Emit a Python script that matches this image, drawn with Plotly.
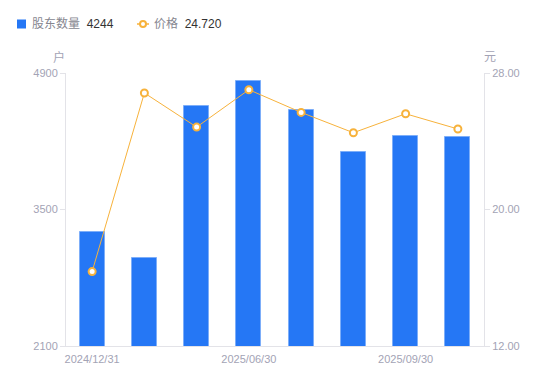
import plotly.graph_objects as go

categories = ["2024/12/31", "2025/03/31", "2025/04/30", "2025/06/30",
              "2025/07/31", "2025/08/31", "2025/09/30", "2025/10/31"]
holders = [3270, 3000, 4561, 4818, 4523, 4089, 4253, 4244]
price = [16.36, 26.83, 24.83, 27.02, 25.69, 24.50, 25.61, 24.72]
tick_idx = [0, 3, 6]
tick_labels = [categories[i] for i in tick_idx]
left_ticks = [2100, 3500, 4900]
right_ticks = [12, 20, 28]

W, H = 550, 381
ML, MR, MT, MB = 66, 66, 73, 35
PW, PH = W - ML - MR, H - MT - MB

def px(x):
    return (x - ML) / PW

def py(y):
    return (H - MB - y) / PH

BLUE = "#2577F5"
ORANGE = "#F7B23B"
TICK = "#A3A3B5"
AXIS = "#E3E3E8"
FONT = "Liberation Sans, Noto Sans CJK SC, sans-serif"

x = list(range(len(categories)))

fig = go.Figure()
fig.add_trace(go.Bar(
    x=x, y=holders, name="股东数量", width=0.48,
    marker=dict(color=BLUE, line=dict(color="#7DAEF9", width=1)),
    showlegend=False,
))
fig.add_trace(go.Scatter(
    x=x, y=price, name="价格", yaxis="y2", mode="lines+markers",
    line=dict(color=ORANGE, width=1),
    marker=dict(symbol="circle", size=7, color="white",
                line=dict(color=ORANGE, width=2)),
    showlegend=False,
))

fig.update_layout(
    width=W, height=H,
    margin=dict(l=ML, r=MR, t=MT, b=MB),
    paper_bgcolor="white", plot_bgcolor="white",
    font=dict(family=FONT, size=11, color=TICK),
    bargap=0,
    xaxis=dict(
        range=[-0.5, len(categories) - 0.5],
        tickvals=tick_idx, ticktext=tick_labels,
        showgrid=False, zeroline=False,
        showline=True, linecolor=AXIS, linewidth=1,
        ticks="", ticklabelstandoff=3, tickfont=dict(size=11, color=TICK),
    ),
    yaxis=dict(
        range=[left_ticks[0], left_ticks[-1]],
        tickvals=left_ticks,
        showgrid=False, zeroline=False,
        showline=True, linecolor=AXIS, linewidth=1,
        ticks="outside", ticklen=5, tickcolor=AXIS,
        tickfont=dict(size=11, color=TICK),
    ),
    yaxis2=dict(
        range=[right_ticks[0], right_ticks[-1]],
        tickvals=right_ticks, tickformat=".2f",
        overlaying="y", side="right",
        showgrid=False, zeroline=False,
        showline=True, linecolor=AXIS, linewidth=1,
        ticks="outside", ticklen=5, tickcolor=AXIS,
        tickfont=dict(size=11, color=TICK),
    ),
)

# axis unit labels
fig.add_annotation(x=px(58.5), y=py(57), xref="paper", yref="paper",
                   xanchor="center", yanchor="middle",
                   text="户", showarrow=False, font=dict(size=12, color=TICK))
fig.add_annotation(x=px(490), y=py(57), xref="paper", yref="paper",
                   xanchor="center", yanchor="middle",
                   text="元", showarrow=False, font=dict(size=12, color=TICK))

# custom legend
LY = 24
fig.add_shape(type="rect", xref="paper", yref="paper",
              x0=px(17), x1=px(26), y0=py(LY + 4.5), y1=py(LY - 4.5),
              fillcolor=BLUE, line=dict(width=0))
fig.add_annotation(x=px(30), y=py(LY), xref="paper", yref="paper",
                   xanchor="left", yanchor="middle",
                   text="<span style='color:#86868f'>股东数量</span>&nbsp; <span style='color:#333'>%d</span>" % holders[-1],
                   showarrow=False, font=dict(size=12))
fig.add_shape(type="line", xref="paper", yref="paper",
              x0=px(137), x1=px(149), y0=py(LY), y1=py(LY),
              line=dict(color=ORANGE, width=1.5))
fig.add_shape(type="circle", xref="paper", yref="paper",
              x0=px(140), x1=px(146), y0=py(LY + 3), y1=py(LY - 3),
              fillcolor="white", line=dict(color=ORANGE, width=2))
fig.add_annotation(x=px(152), y=py(LY), xref="paper", yref="paper",
                   xanchor="left", yanchor="middle",
                   text="<span style='color:#86868f'>价格</span>&nbsp; <span style='color:#333'>%.3f</span>" % price[-1],
                   showarrow=False, font=dict(size=12))

fig.write_html("out.html", config={"displayModeBar": False},
               post_script="document.body.style.margin='0px';")
